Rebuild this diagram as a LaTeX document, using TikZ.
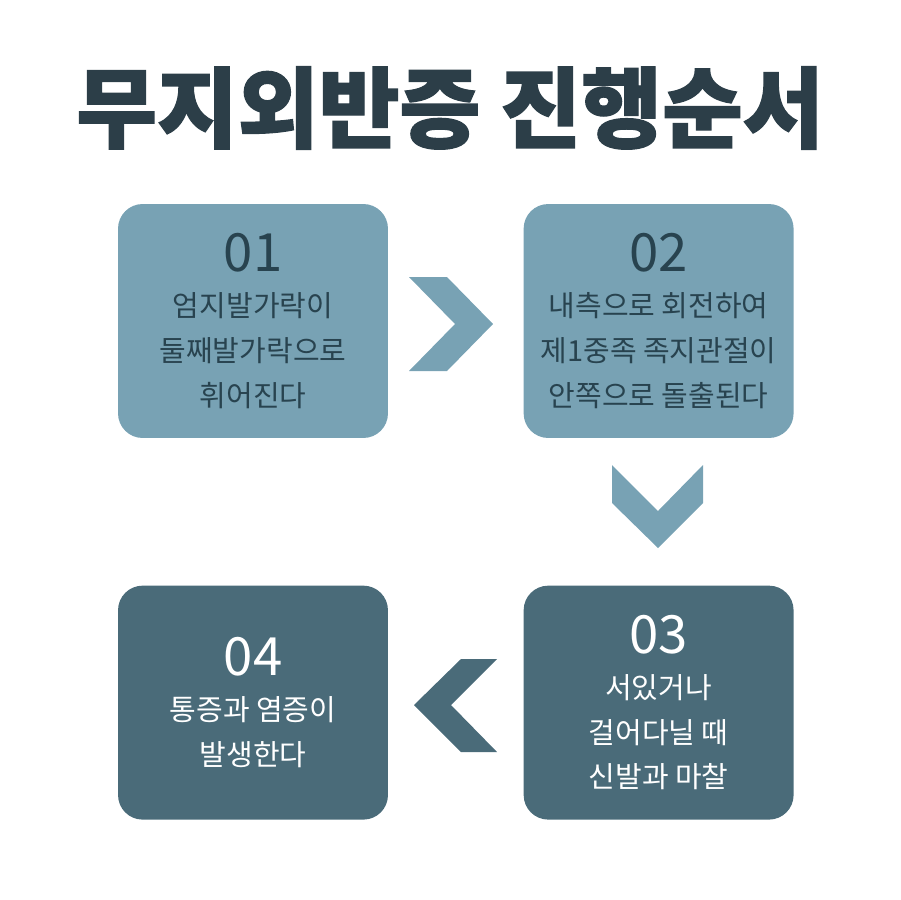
\documentclass[tikz,border=0pt]{standalone}
\usepackage{fontspec}
\newfontfamily\cjk{Noto Sans CJK KR}
\newfontfamily\cjkheavy[FakeBold=1.5]{Noto Sans CJK KR}
\usetikzlibrary{positioning}

\definecolor{titleink}{HTML}{2C3E48}
\definecolor{boxlight}{HTML}{78A2B4}
\definecolor{boxdark}{HTML}{4A6B79}
\definecolor{inklight}{HTML}{28434F}

\newcommand\stepno[1]{{\fontsize{30}{30}\selectfont #1}}

\begin{document}
\begin{tikzpicture}[x=0.02cm, y=-0.02cm,
      stepbox/.style={rectangle, rounded corners=14pt, minimum width=5.4cm, minimum height=4.68cm,
        align=center, inner sep=0pt, font=\cjk\fontsize{16.5}{25.5}\selectfont},
      lightbox/.style={stepbox, fill=boxlight, text=inklight},
      darkbox/.style={stepbox, fill=boxdark, text=white}]

      \useasboundingbox (0,0) rectangle (900,900);

      \node[font=\cjkheavy\bfseries\fontsize{50}{50}\selectfont, text=titleink] (title) at (450,108) {무지외반증 진행순서};

      \node[lightbox] (one) at (253,321) {\stepno{01}\\엄지발가락이\\둘째발가락으로\\휘어진다};
      \node[lightbox, right=2.7cm of one] (two) {\stepno{02}\\내측으로 회전하여\\제1중족 족지관절이\\안쪽으로 돌출된다};
      \node[darkbox, below=2.94cm of two] (three) {\stepno{03}\\서있거나\\걸어다닐 때\\신발과 마찰};
      \node[darkbox, left=2.7cm of three] (four) {\stepno{04}\\통증과 염증이\\발생한다};

      % Chevrons
      \fill[boxlight] (409,277) -- (447,277) -- (493,324) -- (447,371) -- (409,371) -- (455,324) -- cycle;
      \fill[boxlight] (612,465) -- (658,511) -- (703,465) -- (703,503) -- (658,548) -- (612,503) -- cycle;
      \fill[boxdark] (497,659) -- (461,659) -- (414,705) -- (461,752) -- (497,752) -- (451,705) -- cycle;
    \end{tikzpicture}
\end{document}
